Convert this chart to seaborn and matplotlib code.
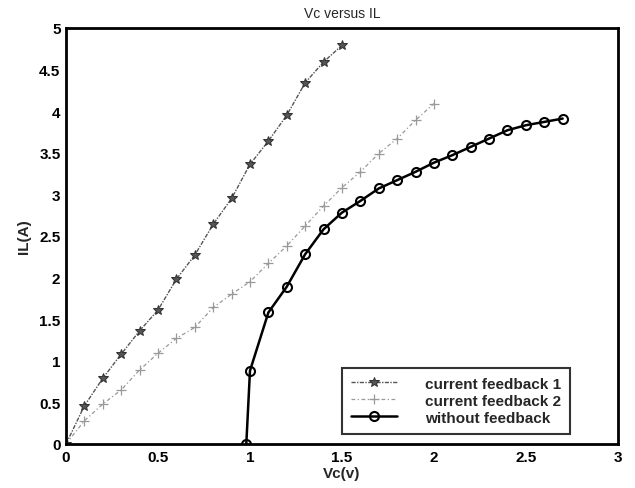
import matplotlib
matplotlib.use("Agg")
import matplotlib.pyplot as plt
import seaborn as sns
import pandas as pd

# Measured Vc (V) and IL (A) for the three control schemes
vc_fb1 = [0.0, 0.1, 0.2, 0.3, 0.4, 0.5, 0.6, 0.7, 0.8, 0.9, 1.0, 1.1, 1.2, 1.3, 1.4, 1.5]
il_fb1 = [0.0, 0.46, 0.79, 1.08, 1.36, 1.61, 1.98, 2.27, 2.64, 2.95, 3.36, 3.64, 3.95, 4.34, 4.59, 4.79]

vc_fb2 = [0.0, 0.1, 0.2, 0.3, 0.4, 0.5, 0.6, 0.7, 0.8, 0.9, 1.0,
          1.1, 1.2, 1.3, 1.4, 1.5, 1.6, 1.7, 1.8, 1.9, 2.0]
il_fb2 = [0.0, 0.28, 0.48, 0.65, 0.89, 1.09, 1.27, 1.40, 1.64, 1.80, 1.95,
          2.17, 2.38, 2.62, 2.86, 3.08, 3.27, 3.49, 3.67, 3.89, 4.09]

vc_nofb = [0.98, 1.0, 1.1, 1.2, 1.3, 1.4, 1.5, 1.6, 1.7, 1.8, 1.9,
           2.0, 2.1, 2.2, 2.3, 2.4, 2.5, 2.6, 2.7]
il_nofb = [0.0, 0.88, 1.58, 1.89, 2.28, 2.58, 2.78, 2.92, 3.07, 3.17, 3.27,
           3.38, 3.47, 3.57, 3.67, 3.77, 3.83, 3.87, 3.91]

labels = ["current feedback 1", "current feedback 2", "without feedback"]
x_ticks = [0, 0.5, 1, 1.5, 2, 2.5, 3]
x_tick_labels = ["0", "0.5", "1", "1.5", "2", "2.5", "3"]
y_ticks = [0, 0.5, 1, 1.5, 2, 2.5, 3, 3.5, 4, 4.5, 5]
y_tick_labels = ["0", "0.5", "1", "1.5", "2", "2.5", "3", "3.5", "4", "4.5", "5"]

sns.set_style("white")
plt.rcParams["font.family"] = ["Liberation Sans", "DejaVu Sans"]

fig = plt.figure(figsize=(6.35, 4.89), dpi=100)
ax = fig.add_axes([0.104, 0.090, 0.869, 0.851])

df1 = pd.DataFrame({"Vc": vc_fb1, "IL": il_fb1})
df2 = pd.DataFrame({"Vc": vc_fb2, "IL": il_fb2})
df3 = pd.DataFrame({"Vc": vc_nofb, "IL": il_nofb})

sns.lineplot(data=df1, x="Vc", y="IL", ax=ax, sort=False, color="#555555",
             linestyle=(0, (3, 1, 1, 1)), linewidth=1.0, marker="*",
             markersize=7, markeredgecolor="#333333", markerfacecolor="#555555",
             label=labels[0])
sns.lineplot(data=df2, x="Vc", y="IL", ax=ax, sort=False, color="#999999",
             linestyle=(0, (3, 2, 1, 2)), linewidth=0.9, marker="+",
             markersize=6.5, markeredgecolor="#999999", markeredgewidth=0.9,
             label=labels[1])
sns.lineplot(data=df3, x="Vc", y="IL", ax=ax, sort=False, color="black",
             linestyle="-", linewidth=1.8, marker="o", markersize=6.5,
             markerfacecolor="none", markeredgecolor="black",
             markeredgewidth=1.5, label=labels[2])

ax.set_xlim(0, 3)
ax.set_ylim(0, 5)
ax.set_xticks(x_ticks)
ax.set_xticklabels(x_tick_labels, fontsize=11, fontweight="bold")
ax.set_yticks(y_ticks)
ax.set_yticklabels(y_tick_labels, fontsize=11, fontweight="bold")
ax.tick_params(direction="in", length=5, width=1.2, pad=4, colors="black")

for side in ["left", "right", "top", "bottom"]:
    ax.spines[side].set_visible(True)
    ax.spines[side].set_color("black")
    ax.spines[side].set_linewidth(2.0)

ax.set_title("Vc versus IL", fontsize=10, pad=8)
ax.set_xlabel("Vc(v)", fontsize=11, fontweight="bold", labelpad=2)
ax.set_ylabel("IL(A)", fontsize=11, fontweight="bold", labelpad=6)

leg = ax.legend(loc="lower right", bbox_to_anchor=(0.913, 0.024), fontsize=11,
                frameon=True, fancybox=False, edgecolor="black",
                borderpad=0.6, labelspacing=0.2, handlelength=3.0,
                handletextpad=1.8, borderaxespad=0.0)
leg.get_frame().set_linewidth(1.5)
for t in leg.get_texts():
    t.set_fontweight("bold")

fig.savefig("out.png", dpi=100, facecolor="white")
